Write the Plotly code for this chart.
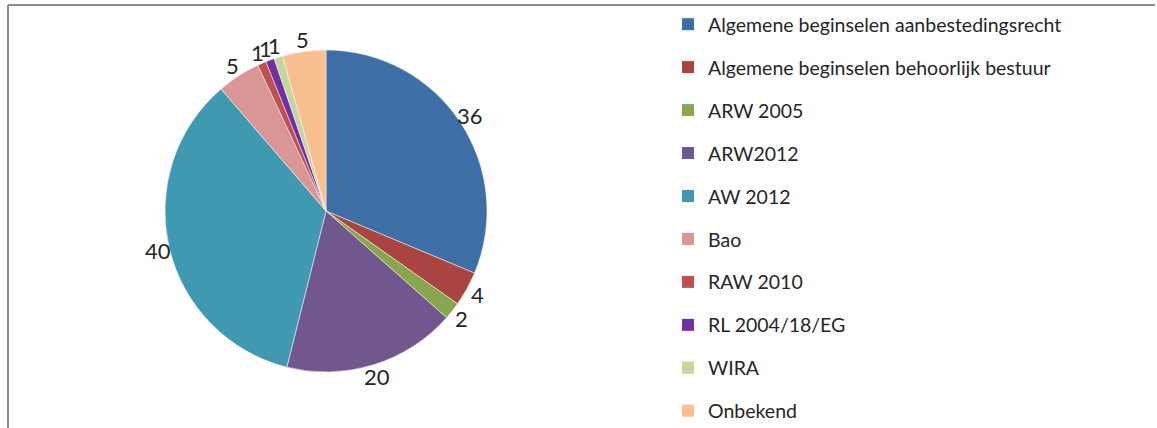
import math
import plotly.graph_objects as go

labels = [
    "Algemene beginselen aanbestedingsrecht",
    "Algemene beginselen behoorlijk bestuur",
    "ARW 2005",
    "ARW2012",
    "AW 2012",
    "Bao",
    "RAW 2010",
    "RL 2004/18/EG",
    "WIRA",
    "Onbekend",
]
values = [36, 4, 2, 20, 40, 5, 1, 1, 1, 5]
colors = ["#3D6FA6", "#AA4441", "#88A64B", "#72578F", "#3F99B1",
          "#D99694", "#C0504D", "#7030A0", "#C3D69B", "#F9C08F"]

W, H = 1157, 428
cx, cy, r = 326, 211, 161
label_dist = 173

fig = go.Figure()
fig.add_trace(go.Pie(
    labels=labels, values=values, sort=False, direction="clockwise", rotation=0,
    marker=dict(colors=colors, line=dict(color="white", width=0.5)),
    textinfo="none",
    showlegend=False,
    domain=dict(x=[(cx - r) / W, (cx + r) / W], y=[(H - cy - r) / H, (H - cy + r) / H]),
    hoverinfo="label+value",
))

# data labels placed at each slice's mid-angle, just outside the pie
total = sum(values)
annotations = []
cum = 0
for v in values:
    mid = (cum + v / 2) / total * 2 * math.pi
    cum += v
    px = cx + label_dist * math.sin(mid)
    py = cy - label_dist * math.cos(mid)
    annotations.append(dict(
        x=px / W, y=1 - py / H, xref="paper", yref="paper", text=str(v),
        showarrow=False, xanchor="center", yanchor="middle",
        font=dict(family="Lato", size=22, color="#262626"),
    ))

for i, (lab, col) in enumerate(zip(labels, colors)):
    fig.add_trace(go.Scatter(
        x=[None], y=[None], mode="markers", name=lab,
        marker=dict(symbol="square", size=12, color=col),
        legendgroup=f"g{i}", showlegend=True,
    ))

fig.update_layout(
    width=W, height=H,
    margin=dict(l=0, r=0, t=0, b=0, autoexpand=False),
    paper_bgcolor="white", plot_bgcolor="white",
    xaxis=dict(visible=False), yaxis=dict(visible=False),
    legend=dict(
        x=668 / W, xanchor="left", y=1 - 5 / H, yanchor="top",
        font=dict(family="Lato", size=19.5, color="#262626"),
        tracegroupgap=14.6, bgcolor="rgba(0,0,0,0)",
    ),
    annotations=annotations,
    shapes=[
        dict(type="line", xref="paper", yref="paper", x0=8 / W, x1=1155 / W,
             y0=1 - 5 / H, y1=1 - 5 / H, line=dict(color="#8C8C8C", width=2)),
        dict(type="line", xref="paper", yref="paper", x0=8 / W, x1=8 / W,
             y0=1 - 5 / H, y1=0, line=dict(color="#8C8C8C", width=2)),
    ],
)

fig.write_html("out.html", config={"displayModeBar": False},
               post_script="document.body.style.margin='0';")
